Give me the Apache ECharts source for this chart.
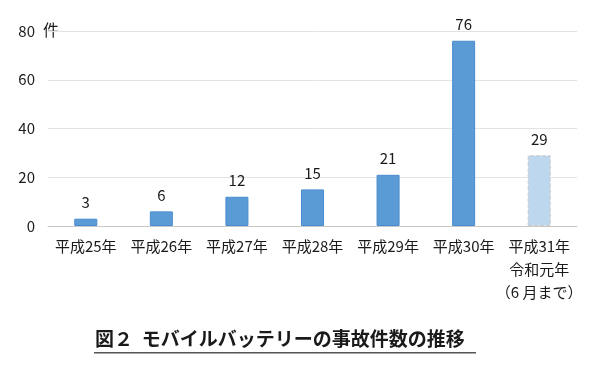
<!DOCTYPE html>
<html><head><meta charset="utf-8">
<script src="https://cdn.jsdelivr.net/npm/echarts@6/dist/echarts.min.js"></script>
<style>html,body{margin:0;padding:0;background:#fff}#c{width:598px;height:375px}</style>
</head><body><div id="c"></div>
<script>
const categories = ['平成25年','平成26年','平成27年','平成28年','平成29年','平成30年','平成31年\n令和元年\n（6 月まで）'];
const values = [3, 6, 12, 15, 21, 76, 29];
const yTicks = [0, 20, 40, 60, 80];
const titleText = '図２  モバイルバッテリーの事故件数の推移';
const unitText = '件';

const FONT = '"Noto Sans CJK JP", "Noto Sans", sans-serif';
const chart = echarts.init(document.getElementById('c'));
const data = values.map((v, i) => i === values.length - 1 ? {
  value: v,
  itemStyle: { color: '#BDD7EE', borderColor: '#c8c8c8', borderType: 'dashed', borderWidth: 1 }
} : v);
chart.setOption({
  animation: false,
  backgroundColor: '#fff',
  grid: { left: 48, right: 21, top: 31, bottom: 149 },
  xAxis: {
    type: 'category', data: categories,
    axisLine: { lineStyle: { color: '#c8c8c8' } },
    axisTick: { show: false },
    axisLabel: { color: '#1a1a1a', fontSize: 15, fontFamily: FONT, margin: 9, lineHeight: 23, interval: 0 }
  },
  yAxis: {
    type: 'value', min: yTicks[0], max: yTicks[yTicks.length - 1], interval: 20,
    axisLine: { show: false }, axisTick: { show: false },
    splitLine: { lineStyle: { color: '#e3e3e3' } },
    axisLabel: { color: '#1a1a1a', fontSize: 15, fontFamily: FONT, margin: 13 }
  },
  series: [{
    type: 'bar', data: data, barWidth: 23,
    itemStyle: { color: '#5B9BD5', borderColor: '#4a8bcf', borderWidth: 1 },
    label: { show: true, position: 'top', distance: 9, color: '#1a1a1a', fontSize: 15, fontFamily: FONT }
  }],
  graphic: [
    { type: 'text', left: 43, top: 22, style: { text: unitText, fill: '#1a1a1a', font: '16px ' + FONT } },
    { type: 'text', left: 95, top: 329, style: { text: titleText, fill: '#1a1a1a', font: 'bold 19px ' + FONT } },
    { type: 'rect', shape: { x: 94, y: 352, width: 382, height: 1.5 }, style: { fill: '#555' } }
  ]
});
</script></body></html>
